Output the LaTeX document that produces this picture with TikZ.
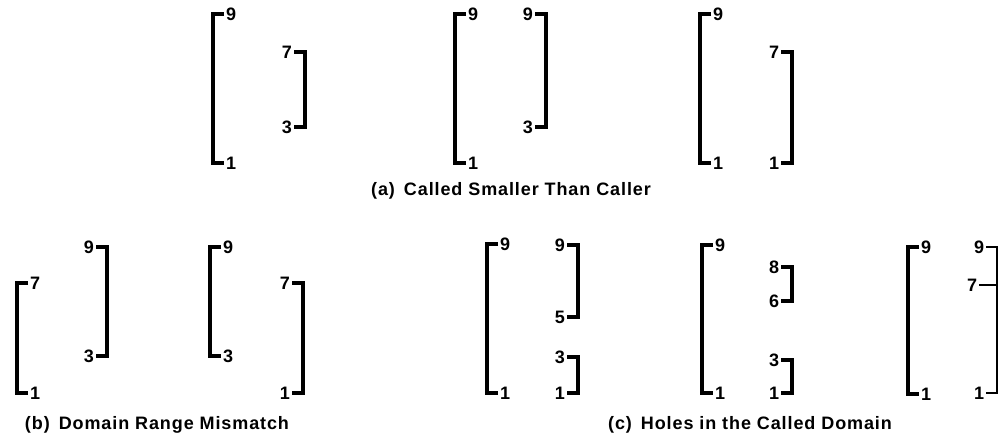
\documentclass[tikz,border=0pt]{standalone}
\usepackage{fontspec}
\setmainfont{Liberation Sans}
\newfontfamily\capfont[LetterSpace=5]{Liberation Sans}
\usetikzlibrary{calc}
\tikzset{num/.style={font=\fontsize{18}{20}\selectfont\bfseries,inner sep=0pt,outer sep=2pt},br/.style={line width=3.6pt},thinbr/.style={line width=2pt},caption/.style={font=\fontsize{18}{22}\selectfont\capfont\bfseries,inner sep=0pt}}

\begin{document}
\begin{tikzpicture}[x=1pt,y=-1pt]
\useasboundingbox (0,0) rectangle (998,436);
% left brackets: name/x/top/bottom/upper label/lower label
\foreach \id/\x/\t/\b/\u/\l in {a1/213/14/163/9/1,a3/455/14/163/9/1,a5/700/14/163/9/1,b1/17/283/393/7/1,b3/210/247/356/9/3,c1/487/244/393/9/1,c4/702/245/393/9/1,c7/908/247/394/9/1}{
\node[num,anchor=west] (t\id) at (\x+11,\t) {\u};
\node[num,anchor=west] (b\id) at (\x+11,\b) {\l};
\draw[br] (t\id.west) -- ++(-11,0) |- (b\id.west);}
% right brackets
\foreach \id/\x/\t/\b/\u/\l in {a2/305/52/127/7/3,a4/546/14/127/9/3,a6/792/52/163/7/1,b2/107/247/356/9/3,b4/303/283/393/7/1,c2/578/245/317/9/5,c3/578/357/393/3/1,c5/792/267/301/8/6,c6/792/360/393/3/1}{
\node[num,anchor=east] (t\id) at (\x-11,\t) {\u};
\node[num,anchor=east] (b\id) at (\x-11,\b) {\l};
\draw[br] (t\id.east) -- ++(11,0) |- (b\id.east);}
% last one, cut at the edge
\node[num,anchor=east] (tc8) at (986,247) {9};
\node[num,anchor=east] (mc8) at (979,285) {7};
\node[num,anchor=east] (bc8) at (986,393) {1};
\draw[thinbr] (tc8.east) -- ++(11,0) |- (bc8.east);
\draw[thinbr] (mc8.east) -- ++(18,0);
\node[caption] (capa) at (511,191) {(a)\enspace Called Smaller Than Caller};
\node[caption] (capb) at (157,425) {(b)\enspace Domain Range Mismatch};
\node[caption] (capc) at (750,425) {(c)\enspace Holes in the Called Domain};
\end{tikzpicture}
\end{document}
